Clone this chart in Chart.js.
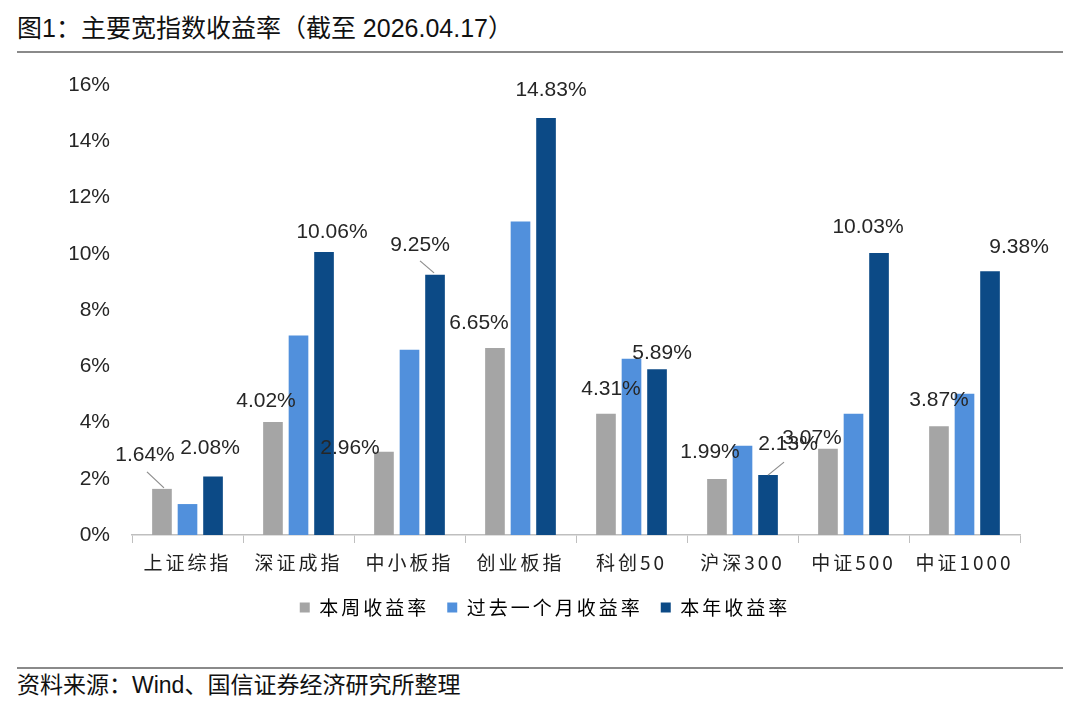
<!DOCTYPE html>
<html>
<head>
<meta charset="utf-8">
<script src="https://cdn.jsdelivr.net/npm/chart.js@4.4.1/dist/chart.umd.min.js"></script>
<style>
    body { margin: 0; width: 1080px; height: 718px; background: #fff; position: relative; overflow: hidden;
           font-family: "Liberation Sans", "Noto Sans CJK SC", sans-serif; color: #111; }
    #titulo { position: absolute; left: 17px; top: 13px; font-size: 25px; line-height: 30px; }
    #linha1 { position: absolute; left: 17px; top: 51px; width: 1046px; height: 2px; background: #8a8a8a; }
    #caixa { position: absolute; left: 0; top: 60px; width: 1080px; height: 580px; }
    #linha2 { position: absolute; left: 17px; top: 667px; width: 1046px; height: 2px; background: #8a8a8a; }
    #fonte { position: absolute; left: 17px; top: 671px; font-size: 23px; line-height: 28px; }
</style>
</head>
<body>
<div id="titulo">图1：主要宽指数收益率（截至 2026.04.17）</div>
<div id="linha1"></div>
<div id="caixa"><canvas id="grafico"></canvas></div>
<div id="linha2"></div>
<div id="fonte">资料来源：Wind、国信证券经济研究所整理</div>
<script>
const categorias = ["上证综指", "深证成指", "中小板指", "创业板指", "科创50", "沪深300", "中证500", "中证1000"];
const semana = [1.64, 4.02, 2.96, 6.65, 4.31, 1.99, 3.07, 3.87];
const mes = [1.10, 7.09, 6.59, 11.15, 6.27, 3.17, 4.31, 5.02];
const ano = [2.08, 10.06, 9.25, 14.83, 5.89, 2.13, 10.03, 9.38];
const ticksY = [0, 2, 4, 6, 8, 10, 12, 14, 16];

// deslocamento dos rótulos (px) em relação ao topo da barra: [dx, dy, linha guia]
const posSemana = [[-17, -34, 1], [-7, -21], [-34, -4], [-16, -25], [5, -25], [-7, -27], [-16, -10], [0, -26]];
const posAno = [[-3, -28], [8, -20], [-15, -30, 2], [5, -28], [5, -16], [20, -31, 3], [-11, -26], [29, -24]];

const cores = ["#a5a5a5", "#5190dc", "#0c4a86"];

// espaçamento entre letras para os textos em chinês (eixo x e legenda)
const espacamento = {
    id: "espacamento",
    beforeLayout(chart) { chart.ctx.letterSpacing = "3px"; },
    afterLayout(chart) { chart.ctx.letterSpacing = "0px"; },
    beforeDraw(chart) { chart.ctx.letterSpacing = "3px"; },
    beforeDatasetsDraw(chart) { chart.ctx.letterSpacing = "0px"; }
};

const rotulos = {
    id: "rotulos",
    afterDatasetsDraw(chart) {
        const ctx = chart.ctx;
        ctx.save();
        ctx.letterSpacing = "0px";
        ctx.font = "21px 'Liberation Sans'";
        ctx.fillStyle = "#262626";
        ctx.textAlign = "center";
        ctx.textBaseline = "middle";
        ctx.strokeStyle = "#8c8c8c";
        ctx.lineWidth = 1.2;
        [[0, semana, posSemana], [2, ano, posAno]].forEach(([idx, valores, pos]) => {
            const meta = chart.getDatasetMeta(idx);
            meta.data.forEach((barra, i) => {
                const [dx, dy, guia] = pos[i];
                const bx = barra.x, by = barra.y;
                ctx.beginPath();
                if (guia === 1) {
                    ctx.moveTo(bx - 15, by - 17);
                    ctx.lineTo(bx + 2, by - 1);
                } else if (guia === 2) {
                    ctx.moveTo(bx - 15, by - 14);
                    ctx.lineTo(bx - 1, by - 2);
                } else if (guia === 3) {
                    ctx.moveTo(bx, by);
                    ctx.lineTo(bx + 16, by - 13);
                }
                ctx.stroke();
                ctx.fillText(valores[i].toFixed(2) + "%", bx + dx, by + dy);
            });
        });
        ctx.restore();
    }
};

new Chart(document.getElementById("grafico"), {
    type: "bar",
    data: {
        labels: categorias,
        datasets: [
            { label: "本周收益率", data: semana, backgroundColor: cores[0] },
            { label: "过去一个月收益率", data: mes, backgroundColor: cores[1] },
            { label: "本年收益率", data: ano, backgroundColor: cores[2] }
        ]
    },
    options: {
        responsive: true,
        maintainAspectRatio: false,
        animation: false,
        categoryPercentage: 0.69,
        barPercentage: 0.77,
        layout: { padding: { top: 25, right: 60, bottom: 13, left: 70 } },
        plugins: {
            tooltip: { enabled: false },
            legend: {
                position: "bottom",
                labels: {
                    boxWidth: 10,
                    boxHeight: 10,
                    padding: 18,
                    color: "#222",
                    font: { size: 19, family: "'Noto Sans CJK SC'" },
                    generateLabels(chart) {
                        return chart.data.datasets.map((d, i) => ({
                            text: d.label, fillStyle: d.backgroundColor, strokeStyle: d.backgroundColor,
                            lineWidth: 0, datasetIndex: i
                        }));
                    }
                }
            }
        },
        scales: {
            x: {
                offset: true,
                grid: { display: true, drawOnChartArea: false, tickLength: 8, color: "#bfbfbf" },
                border: { color: "#bfbfbf", width: 1.5 },
                ticks: { color: "#222", font: { size: 19, family: "'Noto Sans CJK SC'" }, padding: 8 },
                afterFit(scale) { scale.height = 45; }
            },
            y: {
                min: 0,
                max: 16,
                afterBuildTicks(scale) { scale.ticks = ticksY.map(v => ({ value: v })); },
                grid: { display: false, drawTicks: false },
                border: { display: false },
                ticks: {
                    z: 1,
                    color: "#262626",
                    font: { size: 21, family: "'Liberation Sans'" },
                    padding: 22,
                    callback: v => v + "%"
                },
                afterFit(scale) {
                    scale.width = 62;
                    scale.paddingTop = 12;
                    scale.paddingBottom = 12;
                }
            }
        }
    },
    plugins: [espacamento, rotulos]
});
</script>
</body>
</html>
